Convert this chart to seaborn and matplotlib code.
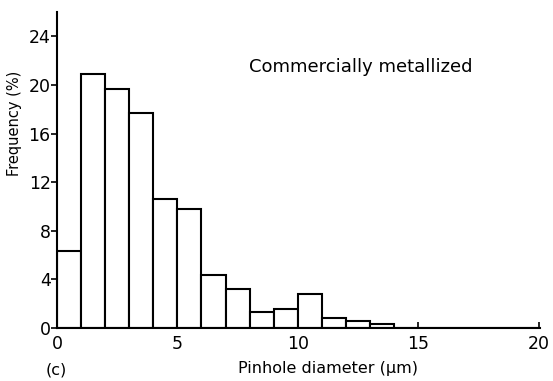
import numpy as np
import pandas as pd
import matplotlib
matplotlib.use("Agg")
import matplotlib.pyplot as plt
import seaborn as sns

# Pinhole size distribution, 1 µm bins from 0 to 20 µm
bin_left = list(range(0, 20))
frequency = [6.3, 20.9, 19.7, 17.7, 10.6, 9.8, 4.4, 3.2, 1.3, 1.6,
             2.8, 0.8, 0.6, 0.3, 0.0, 0.0, 0.0, 0.0, 0.0, 0.0]
x_ticks = [0, 5, 10, 15, 20]
y_ticks = [0, 4, 8, 12, 16, 20, 24]

df = pd.DataFrame({"diameter": [b + 0.5 for b in bin_left], "freq": frequency})

sns.set_theme(style="ticks")
plt.rcParams["font.family"] = ["DejaVu Sans"]
plt.rcParams["text.color"] = "black"

fig = plt.figure(figsize=(5.53, 3.81), dpi=100)
ax = fig.add_axes([0.103, 0.139, 0.873, 0.8295])

sns.histplot(data=df, x="diameter", weights="freq", binwidth=1, binrange=(0, 20),
             stat="count", color="white", edgecolor="black", linewidth=1.5,
             alpha=1.0, ax=ax)

ax.set_xlim(0, 20.05)
ax.set_ylim(0, 26)
ax.set_xticks(x_ticks)
ax.set_yticks(y_ticks)
ax.set_xlabel("")
ax.set_ylabel("")
for s in ["top", "right"]:
    ax.spines[s].set_visible(False)
for s in ["left", "bottom"]:
    ax.spines[s].set_color("black")
    ax.spines[s].set_linewidth(1.5)
ax.tick_params(axis="y", direction="out", length=4, width=1.2, labelsize=12.5,
               colors="black", pad=0.5)
ax.tick_params(axis="x", direction="in", length=4, width=1.2, labelsize=12.5,
               colors="black", pad=5)

ax.text(12.6, 21.5, "Commercially metallized", ha="center", va="center", fontsize=13,
        color="black")
fig.text(328 / 553, 1 - 369 / 381, "Pinhole diameter (\u03bcm)", ha="center", va="center",
         fontsize=11.5, color="black")
fig.text(56 / 553, 1 - 370 / 381, "(c)", ha="center", va="center", fontsize=11.5,
         color="black")
fig.text(15 / 553, 1 - 123 / 381, "Frequency (%)", ha="center", va="center",
         rotation=90, fontsize=10.5, color="black")

fig.savefig("out.png", dpi=100)
